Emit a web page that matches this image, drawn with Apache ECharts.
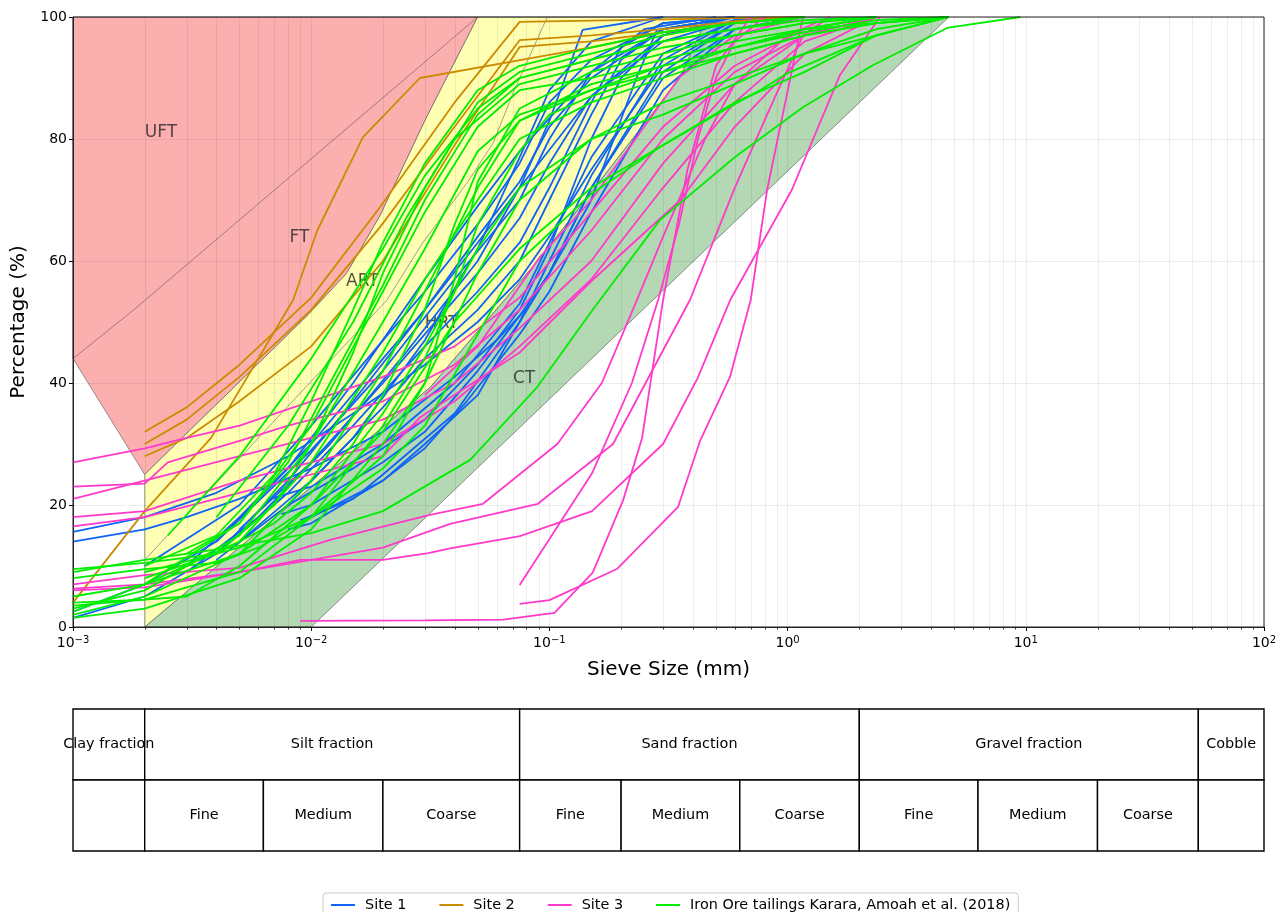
<!DOCTYPE html>
<html>
<head>
<meta charset="utf-8">
<script src="https://cdn.jsdelivr.net/npm/echarts/dist/echarts.min.js"></script>
<style>
  html, body { margin: 0; padding: 0; background: #fff; }
  #chart { width: 1283px; height: 912px; }
</style>
</head>
<body>
<div id="chart"></div>
<script>
// ---- Gradation curves: [sieve size (mm), percentage passing (%)] ----
const site1 = [
  [[0.001,1.5],[0.002,5],[0.004,12],[0.008,24],[0.015,37],[0.03,52],[0.05,63],[0.075,72],[0.15,87],[0.3,96],[0.6,99.5],[1.18,100]],
  [[0.001,2.5],[0.002,7],[0.004,14],[0.008,26],[0.015,40],[0.03,57],[0.05,69],[0.075,78],[0.15,91],[0.3,98],[0.6,100]],
  [[0.001,14],[0.002,16],[0.003,18],[0.005,21],[0.01,26],[0.02,32],[0.04,41],[0.06,47],[0.075,51],[0.1,58],[0.15,72],[0.3,90],[0.6,98],[1.18,100]],
  [[0.001,15.6],[0.002,18],[0.004,22],[0.008,28],[0.015,35],[0.03,43],[0.05,50],[0.075,57],[0.1,64],[0.15,75],[0.3,92],[0.6,99],[1.18,100]],
  [[0.0075,18.5],[0.01,20],[0.02,27],[0.03,32],[0.05,42],[0.075,51],[0.1,58],[0.15,72],[0.3,91],[0.6,99],[1.18,100]],
  [[0.008,16],[0.01,17],[0.02,24],[0.03,29.3],[0.045,37],[0.075,48],[0.1,55],[0.15,68],[0.3,88],[0.6,98],[1.18,100]],
  [[0.009,17.5],[0.015,21],[0.02,25],[0.04,35],[0.075,50],[0.1,60],[0.15,74],[0.3,93],[0.6,99.5],[1.18,100]],
  [[0.0065,20.8],[0.01,23],[0.02,30],[0.04,40],[0.075,53],[0.1,63],[0.15,77],[0.3,94],[0.6,99.5],[1.18,100]],
  [[0.003,10],[0.005,18],[0.01,30],[0.02,44],[0.03,52],[0.05,64],[0.075,73],[0.1,82],[0.15,90],[0.3,98],[0.6,100]],
  [[0.002,10],[0.005,20],[0.01,33],[0.02,47],[0.03,55],[0.05,66],[0.075,76],[0.1,86],[0.15,93],[0.3,99],[0.6,100]],
  [[0.005,16],[0.01,27],[0.02,40],[0.03,48],[0.05,58],[0.075,67],[0.1,76],[0.15,87],[0.3,97],[0.6,100]],
  [[0.004,14],[0.01,29],[0.02,42],[0.04,57],[0.075,70],[0.1,80],[0.15,91],[0.25,98],[0.5,100]],
  [[0.01,18],[0.02,24],[0.03,30],[0.05,38],[0.075,50],[0.1,58],[0.148,69.5],[0.233,90.2],[0.283,97.9],[0.6,100]],
  [[0.005,14],[0.01,24],[0.02,36],[0.03,44],[0.05,52],[0.075,60],[0.1,70],[0.15,84],[0.2,93],[0.3,98],[0.6,100]],
  [[0.004,12],[0.008,22],[0.015,33],[0.03,46],[0.05,55],[0.075,63],[0.1,72],[0.15,86],[0.2,95],[0.3,99],[0.6,100]],
  [[0.003,9],[0.006,18],[0.012,30],[0.025,45],[0.05,60],[0.075,72],[0.1,83],[0.138,97.9],[0.3,100]],
  [[0.004,11],[0.008,20],[0.015,31],[0.03,47],[0.05,62],[0.075,77],[0.1,88],[0.15,96],[0.3,100]],
  [[0.008,20],[0.015,26],[0.03,34],[0.05,43],[0.075,52],[0.1,62],[0.15,80],[0.2,90],[0.3,97],[0.6,100]]
];

const site2 = [
  [[0.001,4],[0.002,19],[0.0038,31],[0.0084,53.6],[0.0106,65],[0.0165,80.3],[0.0286,90],[0.1,93.8],[0.15,95],[0.3,97.5],[0.6,99],[1.18,100]],
  [[0.002,32],[0.003,36],[0.005,43],[0.01,54],[0.0195,68.9],[0.04,86],[0.075,99.2],[0.15,99.4],[0.6,99.8],[1.18,100]],
  [[0.002,30],[0.003,34],[0.005,41],[0.01,52],[0.0195,65.6],[0.04,82],[0.075,96.2],[0.15,97],[0.3,98],[0.6,99.3],[1.18,100]],
  [[0.002,28],[0.003,31],[0.005,37],[0.01,46],[0.02,60],[0.04,79],[0.075,95.1],[0.15,96],[0.3,97.5],[0.6,99],[1.18,100]]
];

const site3 = [
  [[0.001,27],[0.002,29.3],[0.003,31],[0.005,33],[0.01,37],[0.02,41],[0.04,46],[0.075,54],[0.15,68],[0.3,82],[0.6,92],[1.18,98],[2.36,100]],
  [[0.001,23],[0.002,23.5],[0.0025,27],[0.005,30.5],[0.008,33],[0.02,37],[0.04,43],[0.075,52],[0.15,65],[0.3,80],[0.6,91],[1.18,97],[2.36,100]],
  [[0.001,21],[0.002,24],[0.005,28],[0.01,31],[0.02,34],[0.04,40],[0.075,49],[0.15,60],[0.3,76],[0.6,89],[1.18,97],[2.36,100]],
  [[0.001,18],[0.002,19],[0.005,24],[0.01,27],[0.02,30],[0.04,37],[0.075,46],[0.15,57],[0.3,72],[0.6,86],[1.18,96],[2.36,100]],
  [[0.001,16.5],[0.002,18],[0.005,22],[0.01,25],[0.02,28],[0.0287,34.4],[0.075,45],[0.149,56.6],[0.355,70],[0.6,82],[1.18,94],[2.36,100]],
  [[0.001,7],[0.002,8.5],[0.005,9.7],[0.012,14.3],[0.0315,18.4],[0.0526,20.2],[0.108,30],[0.166,40],[0.233,53.6],[0.3,64],[0.45,80],[0.6,89],[1.0,97],[1.5,100]],
  [[0.001,6.3],[0.002,7],[0.005,9],[0.01,11],[0.02,13],[0.0383,16.9],[0.0895,20.2],[0.185,30],[0.389,53.6],[0.6,72],[0.82,84],[1.16,97],[1.5,100]],
  [[0.001,6],[0.002,6.5],[0.005,9],[0.009,11],[0.02,11],[0.031,12.1],[0.0383,12.9],[0.0752,14.9],[0.151,19],[0.3,30],[0.419,40.8],[0.574,53.6],[1.04,71.6],[1.66,90.5],[2.44,100]],
  [[0.075,6.9],[0.151,25.2],[0.222,40],[0.286,53.6],[0.35,66],[0.42,80],[0.5,90],[0.6,96],[0.8,100]],
  [[0.075,3.8],[0.1,4.4],[0.192,9.5],[0.347,19.7],[0.43,30.6],[0.573,41],[0.7,53.6],[0.82,71.6],[1.16,100]],
  [[0.009,1],[0.03,1.1],[0.064,1.2],[0.105,2.3],[0.152,8.9],[0.204,20.8],[0.245,31],[0.3,53.6],[0.38,75],[0.5,92],[0.7,100]],
  [[0.03,38],[0.05,46],[0.0914,60.7],[0.15,70],[0.25,82],[0.353,90.2],[0.6,97],[1.18,100]]
];

const ironOre = [
  [[0.001,9],[0.002,11],[0.0045,13],[0.01,15.4],[0.02,19],[0.0465,27.4],[0.0887,39.3],[0.152,52],[0.291,66.7],[0.6,77],[1.16,85.2],[2.28,92.1],[4.67,98.2],[9.5,100]],
  [[0.001,8],[0.002,9.5],[0.004,10.5],[0.006,13],[0.01,18],[0.02,26],[0.03,33],[0.05,48],[0.075,60],[0.15,71],[0.3,79],[0.6,86],[1.18,91],[2.36,97],[4.75,100]],
  [[0.001,4],[0.002,4.5],[0.003,5],[0.005,10],[0.01,20],[0.02,35],[0.03,46],[0.05,62],[0.075,72],[0.15,80],[0.3,84],[0.6,89],[1.18,94],[2.36,98],[4.75,100]],
  [[0.001,5],[0.002,7],[0.005,14],[0.01,27],[0.02,45],[0.03,57],[0.05,70],[0.075,80],[0.15,86],[0.3,90],[0.6,94],[1.18,97],[2.36,99],[4.75,100]],
  [[0.001,3],[0.002,6],[0.005,15],[0.01,30],[0.02,50],[0.03,62],[0.05,78],[0.075,84],[0.15,88],[0.3,92],[0.6,95],[1.18,97.5],[2.36,99.5],[4.75,100]],
  [[0.001,2.5],[0.002,7],[0.005,17],[0.01,33],[0.02,55],[0.03,68],[0.05,82],[0.075,88],[0.15,90],[0.3,93],[0.6,96],[1.18,98],[4.75,100]],
  [[0.001,2],[0.002,5],[0.005,12],[0.01,24],[0.02,42],[0.03,55],[0.05,72],[0.075,83],[0.15,89],[0.3,92],[0.6,95],[1.18,98],[2.36,100]],
  [[0.002,8],[0.004,12],[0.007,20],[0.01,30],[0.015,45],[0.02,58],[0.03,72],[0.05,86],[0.075,91],[0.15,94],[0.3,97],[0.6,99],[1.18,100]],
  [[0.002,10],[0.004,15],[0.007,25],[0.01,37],[0.015,52],[0.02,63],[0.03,76],[0.05,88],[0.075,92],[0.15,95],[0.3,97.5],[0.6,99],[1.18,100]],
  [[0.003,12],[0.005,17],[0.008,27],[0.012,40],[0.02,56],[0.03,70],[0.05,84],[0.075,90],[0.15,93],[0.3,96],[0.6,98],[1.18,100]],
  [[0.001,9.5],[0.002,10.5],[0.004,12],[0.007,17],[0.01,22],[0.015,30],[0.02,38],[0.03,52],[0.04,66],[0.05,75],[0.075,83],[0.15,88],[0.3,91],[0.6,94],[1.18,97],[2.36,99],[4.75,100]],
  [[0.0025,15],[0.005,28],[0.01,44],[0.02,62],[0.03,74],[0.05,85],[0.075,90],[0.15,93],[0.3,96],[0.6,98],[1.18,99.5],[2.36,100]],
  [[0.004,18],[0.008,33],[0.015,50],[0.025,67],[0.04,80],[0.075,89],[0.15,92],[0.3,95],[0.6,97],[1.18,99],[2.36,100]],
  [[0.001,3.5],[0.002,4.5],[0.005,9],[0.01,18],[0.02,33],[0.03,44],[0.04,55],[0.05,66],[0.075,78],[0.1,84],[0.15,87],[0.3,91],[0.6,95],[1.18,98],[2.36,100]],
  [[0.002,9],[0.005,13],[0.01,18],[0.02,28],[0.03,40],[0.04,57],[0.05,73],[0.075,85],[0.15,91],[0.3,94],[0.6,97],[1.18,99],[2.36,100]],
  [[0.001,1.5],[0.002,3],[0.005,8],[0.01,16],[0.02,30],[0.03,40],[0.05,58],[0.075,70],[0.15,80],[0.3,86],[0.6,90],[1.18,94],[2.36,97],[4.75,100]],
  [[0.002,7],[0.005,12],[0.01,20],[0.02,32],[0.04,50],[0.075,62],[0.15,72],[0.3,79],[0.5,84],[0.766,88],[1.0,90.8],[2.36,97],[4.75,100]]
];

// ---- Tailings classification zones (boundary vertices) ----
const zoneRed = [[0.001,100],[0.05,100],[0.03,83],[0.0195,67.5],[0.0141,58],[0.0096,51],[0.002,25],[0.001,44]];
const zoneYellow = [[0.002,0],[0.002,25],[0.0096,51],[0.0141,58],[0.0195,67.5],[0.03,83],[0.05,100],[0.46,100],[0.353,90],[0.0915,60.5],[0.0316,39.3]];
const zoneGreen = [[0.002,0],[0.01,0],[4.75,100],[0.46,100],[0.353,90],[0.0915,60.5],[0.0316,39.3]];
const lineUFT = [[0.001,44],[0.0018,52],[0.05,100]];
const lineART = [[0.002,11],[0.0208,53.6],[0.0294,63],[0.0451,72.8],[0.058,79.3],[0.0703,87.5],[0.098,100]];
const zoneLabels = [[0.002,81,'UFT'],[0.0081,63.8,'FT'],[0.014,56.7,'ART'],[0.030,49.8,'HRT'],[0.0703,40.8,'CT']];

// ---- Soil fraction table (size limits in mm) ----
const fractionTop = [[0.001,0.002,'Clay fraction'],[0.002,0.075,'Silt fraction'],[0.075,2,'Sand fraction'],[2,53,'Gravel fraction'],[53,100,'Cobble']];
const fractionSub = [[0.001,0.002,''],[0.002,0.0063,'Fine'],[0.0063,0.02,'Medium'],[0.02,0.075,'Coarse'],[0.075,0.2,'Fine'],[0.2,0.63,'Medium'],[0.63,2,'Coarse'],[2,6.3,'Fine'],[6.3,20,'Medium'],[20,53,'Coarse'],[53,100,'']];

const seriesNames = ['Site 1','Site 2','Site 3','Iron Ore tailings Karara, Amoah et al. (2018)'];
const seriesColors = ['#0f64f5','#cc8b00','#ff3acb','#00ee00'];
const yTicks = [0,20,40,60,80,100];

const FONT = 'DejaVu Sans';
const chart = echarts.init(document.getElementById('chart'));

// minor log gridlines 2..9 per decade
const minorVals = [];
for (let d = -3; d <= 1; d++) for (let k = 2; k <= 9; k++) minorVals.push([k * Math.pow(10, d), 0]);

const supMap = {'-3':'−3','-2':'−2','-1':'−1','0':'0','1':'1','2':'2'};

function polygonSeries(points, fill) {
  return {
    type: 'custom', z: 1, silent: true,
    data: points,
    renderItem(params, api) {
      if (params.dataIndex !== 0) return;
      return {
        type: 'polygon',
        shape: { points: points.map(p => api.coord(p)) },
        style: { fill: fill, stroke: 'rgba(70,70,70,0.55)', lineWidth: 1 }
      };
    }
  };
}
function polylineSeries(points) {
  return {
    type: 'custom', z: 1.5, silent: true,
    data: points,
    renderItem(params, api) {
      if (params.dataIndex !== 0) return;
      return {
        type: 'polyline',
        shape: { points: points.map(p => api.coord(p)) },
        style: { fill: null, stroke: 'rgba(70,70,70,0.5)', lineWidth: 1 }
      };
    }
  };
}

const series = [
  polygonSeries(zoneRed, '#fcafaf'),
  polygonSeries(zoneYellow, '#ffffb4'),
  polygonSeries(zoneGreen, '#b3d8b3'),
  polylineSeries(lineUFT),
  polylineSeries(lineART),
  {
    type: 'custom', z: 2, silent: true, clip: false,
    data: minorVals,
    renderItem(params, api) {
      const x = api.value(0);
      const top = api.coord([x, 100]);
      const bot = api.coord([x, 0]);
      const px = Math.round(bot[0]) + 0.5;
      return { type: 'group', children: [
        { type: 'line', shape: { x1: px, y1: top[1], x2: px, y2: bot[1] }, style: { stroke: 'rgba(0,0,0,0.07)', lineWidth: 1 } },
        { type: 'line', shape: { x1: px, y1: bot[1], x2: px, y2: bot[1] + 2.5 }, style: { stroke: '#000', lineWidth: 0.8 } }
      ]};
    }
  },
  {
    type: 'custom', z: 2.5, silent: true,
    data: zoneLabels.map(l => [l[0], l[1]]),
    renderItem(params, api) {
      const p = api.coord([api.value(0), api.value(1)]);
      return { type: 'text', x: p[0], y: p[1], style: {
        text: zoneLabels[params.dataIndex][2], fill: 'rgba(40,40,40,0.8)',
        font: '17px "' + FONT + '"', textAlign: 'left', textVerticalAlign: 'middle' } };
    }
  }
];

const groups = [site1, site2, site3, ironOre];
groups.forEach((grp, gi) => {
  grp.forEach(curve => {
    series.push({
      type: 'line', name: seriesNames[gi], data: curve, z: 3,
      showSymbol: false, symbol: 'none', silent: true,
      color: seriesColors[gi],
      lineStyle: { width: 1.8, color: seriesColors[gi] }
    });
  });
});

// fraction table below the plot
const tableCells = fractionTop.map(c => [c[0], c[1], 0, c[2]]).concat(fractionSub.map(c => [c[0], c[1], 1, c[2]]));
series.push({
  type: 'custom', z: 5, silent: true, clip: false,
  encode: { x: [0, 1], y: 2 },
  data: tableCells.map(c => [c[0], c[1], c[2]]),
  renderItem(params, api) {
    const cell = tableCells[params.dataIndex];
    const a = api.coord([cell[0], 0]);
    const b = api.coord([cell[1], 0]);
    const rowH = 71;
    const y0 = a[1] + 82 + cell[2] * rowH;
    return { type: 'group', children: [
      { type: 'rect', shape: { x: a[0], y: y0, width: b[0] - a[0], height: rowH },
        style: { fill: '#fff', stroke: '#000', lineWidth: 1.4 } },
      { type: 'text', x: (a[0] + b[0]) / 2, y: y0 + rowH / 2, z2: 10,
        style: { text: cell[3], fill: '#000', font: '14.4px "' + FONT + '"', textAlign: 'center', textVerticalAlign: 'middle' } }
    ]};
  }
});

chart.setOption({
  animation: false,
  backgroundColor: '#fff',
  textStyle: { fontFamily: FONT },
  grid: { left: 73, right: 19, top: 17, bottom: 285, show: true, borderColor: '#222', borderWidth: 1, backgroundColor: 'transparent', z: 10 },
  legend: {
    data: seriesNames, top: 893, left: 323,
    icon: 'rect', itemWidth: 24, itemHeight: 2, itemGap: 33,
    padding: [5, 8], borderColor: '#ccc', borderWidth: 1, borderRadius: 3,
    textStyle: { fontSize: 14.4, color: '#000', fontFamily: FONT, padding: [0, 0, 0, 5] }
  },
  xAxis: {
    type: 'log', logBase: 10, min: 0.001, max: 100, z: 2,
    name: 'Sieve Size (mm)', nameLocation: 'middle', nameGap: 33,
    nameTextStyle: { fontSize: 20, color: '#000', fontFamily: FONT },
    axisLine: { show: true, lineStyle: { color: '#222' } },
    axisTick: { show: true, length: 4, lineStyle: { color: '#000' } },
    splitLine: { show: true, lineStyle: { color: 'rgba(0,0,0,0.07)' } },
    axisLabel: {
      margin: 8, color: '#000',
      formatter: v => '10{s|' + supMap[String(Math.round(Math.log10(v)))] + '}',
      rich: { s: { fontSize: 10, verticalAlign: 'top', padding: [0, 0, 7, 0], fontFamily: FONT } },
      fontSize: 14, fontFamily: FONT
    }
  },
  yAxis: {
    type: 'value', min: 0, max: 100, interval: 20, z: 2,
    name: 'Percentage (%)', nameLocation: 'middle', nameGap: 44,
    nameTextStyle: { fontSize: 20, color: '#000', fontFamily: FONT },
    axisLine: { show: true, lineStyle: { color: '#222' } },
    axisTick: { show: true, length: 4, lineStyle: { color: '#000' } },
    splitLine: { show: true, lineStyle: { color: 'rgba(0,0,0,0.07)' } },
    axisLabel: { fontSize: 14, color: '#000', margin: 6, fontFamily: FONT,
      formatter: v => yTicks.includes(v) ? String(v) : '' }
  },
  series: series
});
</script>
</body>
</html>
